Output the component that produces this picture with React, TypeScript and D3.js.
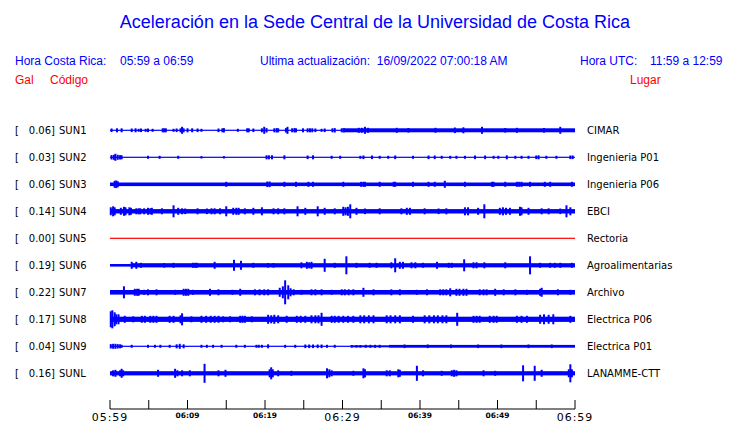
import React, { useRef, useEffect } from 'react';
import * as d3 from 'd3';

const codes = ['SUN1', 'SUN2', 'SUN3', 'SUN4', 'SUN5', 'SUN6', 'SUN7', 'SUN8', 'SUN9', 'SUNL'];
const galValues = [0.06, 0.03, 0.06, 0.14, 0.0, 0.19, 0.22, 0.17, 0.04, 0.16];
const places = [
  'CIMAR', 'Ingenieria P01', 'Ingenieria P06', 'EBCI', 'Rectoria',
  'Agroalimentarias', 'Archivo', 'Electrica P06', 'Electrica P01', 'LANAMME-CTT',
];
// minutes after 05:59, one tick every 5 minutes
const tickMinutes = [0, 5, 10, 15, 20, 25, 30, 35, 40, 45, 50, 55, 60];
const tickLabels = ['05:59', '', '06:09', '', '06:19', '', '06:29', '', '06:39', '', '06:49', '', '06:59'];
const bigTickLabels = ['05:59', '06:29', '06:59'];

type Seg = [number, number, number]; // start min, end min, half amplitude
type Ev = [number, number]; // minute, half amplitude

// base noise level of each trace
const sun1Base: Seg[] = [[0, 30, 0.6], [30, 60, 2]];
const sun2Base: Seg[] = [[0, 60, 0.6]];
const sun3Base: Seg[] = [[0, 60, 1.8]];
const sun4Base: Seg[] = [[0, 60, 2.2]];
const sun5Base: Seg[] = [[0, 60, 0.6]];
const sun6Base: Seg[] = [[0, 2.7, 1.3], [2.7, 60, 2.1]];
const sun7Base: Seg[] = [[0, 60, 2.3]];
const sun8Base: Seg[] = [[0, 60, 2.6]];
const sun9Base: Seg[] = [[0, 31, 0.6], [31, 36, 1.0], [36, 60, 1.4]];
const sunlBase: Seg[] = [[0, 60, 2.1]];

// bursts / spikes
const sun1Events: Ev[] = [
  [0.2, 1.8], [0.9, 2], [1.5, 2], [2.8, 1.8], [3.3, 2], [3.7, 1.5], [4.0, 1.8], [4.6, 1.5], [4.9, 1.8], [5.5, 1.5],
  [6.8, 2], [7.0, 2], [7.2, 2], [8.2, 1.5], [8.6, 1.8], [9.1, 2], [9.3, 3.5], [9.5, 2], [10.0, 2], [10.6, 2],
  [11.3, 1.8], [11.8, 1.5], [14.0, 1.8], [14.5, 2], [14.7, 2.2], [16.5, 1.5], [17.7, 2], [17.9, 2], [18.5, 1.8],
  [19.6, 2], [19.9, 3.5], [20.2, 2.2], [21.2, 2], [21.5, 2.2], [21.7, 2], [22.7, 2.2], [22.9, 3.5], [23.5, 2],
  [23.8, 2.2], [24.0, 2], [24.9, 2], [25.5, 2], [25.8, 2], [26.1, 2], [26.5, 1.8], [27.3, 1.5], [27.7, 1.8],
  [28.7, 2], [29.0, 2.2], [29.9, 2], [30.2, 2], [32.1, 2.5], [32.5, 2.5], [32.9, 3.5], [33.3, 2.5], [37.0, 2.5],
  [38.5, 2.3], [42.0, 2.5], [44.5, 2.8], [45.6, 3], [48.0, 3.5], [51.0, 2.3], [52.5, 2.5], [56.0, 2.3], [58.1, 3.5],
];
const sun2Events: Ev[] = [
  [0.2, 2.2], [0.5, 2.5], [0.7, 3.5], [1.0, 2.5], [1.3, 2.2], [1.5, 2], [4.9, 1.5], [6.4, 1.5], [8.8, 1.5],
  [11.8, 1.2], [14.7, 1.2], [20.2, 2], [20.5, 2], [20.9, 2], [22.5, 2], [25.5, 1.8], [26.2, 2], [28.6, 1.5],
  [29.7, 1.5], [32.3, 1.5], [32.7, 1.8], [33.8, 1.8], [34.8, 1.5], [35.9, 1.5], [36.8, 1.8], [39.1, 1.5],
  [41.1, 1.8], [41.9, 1.8], [42.8, 1.5], [43.9, 1.5], [44.7, 1.5], [45.8, 1.5], [47.1, 1.8], [48.4, 1.8],
  [49.5, 1.5], [50.1, 1.5], [51.2, 2], [52.3, 1.5], [53.1, 1.5], [54.0, 1.5], [55.0, 1.8], [55.3, 2],
  [56.3, 1.5], [57.6, 1.5], [59.4, 1.8], [59.7, 1.8],
];
const sun3Events: Ev[] = [
  [0.6, 3.5], [0.8, 3.8], [1.0, 3], [15.0, 2.5], [20.3, 2.8], [20.6, 2.8], [22.5, 2.5], [24.0, 2.5], [25.6, 2.5],
  [26.2, 2.5], [30.1, 2.5], [32.4, 2.5], [32.7, 2.5], [32.9, 2.5], [34.8, 2.5], [36.6, 2.5], [36.8, 2.5],
  [39.1, 2.5], [41.1, 2.5], [41.9, 2.5], [43.2, 3.5], [45.8, 2.5], [49.3, 2.5], [49.5, 2.5], [51.0, 2.5],
  [52.5, 2.5], [52.8, 2.5], [53.1, 2.5], [54.2, 2.5], [56.1, 2.5], [56.8, 2.5], [59.6, 2.5],
];
const sun4Events: Ev[] = [
  [0.1, 4], [0.4, 5], [0.6, 4], [1.4, 3.5], [1.8, 4.5], [2.0, 4], [2.5, 4], [2.7, 3.5], [3.4, 3], [3.7, 3],
  [3.9, 3], [4.4, 3], [4.9, 3.5], [5.2, 3], [5.4, 3.5], [6.7, 3], [8.2, 6], [8.8, 3.5], [9.3, 3], [9.7, 2.8],
  [11.3, 3], [12.5, 2.8], [13.1, 3], [13.5, 3], [14.2, 3], [15.0, 5], [15.9, 3.5], [16.3, 3.5], [16.6, 3.5],
  [17.4, 3], [18.5, 3.5], [19.6, 4], [21.1, 3], [21.7, 3], [22.5, 3], [24.2, 5], [25.2, 3.5], [26.8, 5],
  [27.7, 3.5], [29.0, 3], [30.1, 4.5], [30.4, 4], [30.7, 4.5], [31.0, 7], [31.8, 3.5], [32.9, 2.8], [34.8, 3],
  [37.6, 3], [38.3, 3.5], [38.7, 3.5], [40.6, 3], [42.4, 2.8], [43.4, 3], [45.8, 4], [46.2, 4], [47.5, 3.5],
  [48.3, 7], [50.3, 3.5], [50.7, 4], [51.1, 3.5], [51.6, 3.5], [52.9, 4.5], [53.1, 4], [54.0, 3.5], [55.7, 3],
  [56.6, 3], [58.1, 2.8], [58.9, 6], [59.4, 4],
];
const sun5Events: Ev[] = [];
const sun6Events: Ev[] = [
  [2.8, 3.5], [3.4, 3.5], [4.0, 2.5], [7.0, 2.3], [8.2, 2.5], [10.7, 2.5], [11.0, 2.5], [11.2, 2.5], [13.5, 3.5],
  [16.0, 5.5], [16.9, 4.5], [18.5, 2.5], [20.4, 2.3], [21.1, 2.3], [24.7, 3], [25.4, 3.5], [25.7, 3], [26.0, 3.5],
  [27.7, 6.5], [29.0, 2.5], [30.5, 9], [31.8, 2.5], [33.5, 2.5], [34.4, 2.5], [36.3, 3], [36.8, 7], [37.4, 3.5],
  [37.8, 3.5], [38.9, 3], [39.4, 3], [40.4, 2.5], [42.2, 3.5], [43.7, 2.5], [44.1, 2.5], [45.7, 6], [46.9, 3],
  [47.3, 3], [48.3, 3], [51.0, 3], [54.2, 9], [55.5, 2.5], [56.8, 2.5], [57.4, 2.5], [58.1, 2.5], [59.6, 2.5],
];
const sun7Events: Ev[] = [
  [1.8, 6], [3.2, 3.5], [3.5, 3.5], [3.7, 3.5], [4.4, 2.5], [4.9, 3], [6.0, 3], [8.4, 2.5], [9.5, 3.5], [9.8, 3.5],
  [10.1, 3.5], [10.7, 2.5], [12.9, 3.5], [14.0, 3], [15.8, 2.5], [16.8, 3.5], [18.7, 3], [19.3, 3], [19.9, 3],
  [20.4, 3], [21.9, 4.5], [22.3, 6], [22.6, 12], [23.0, 7], [23.3, 4], [23.7, 3], [24.7, 2.5], [26.0, 3],
  [26.5, 3], [27.3, 3], [28.6, 2.5], [29.9, 3], [30.3, 3], [30.8, 3], [31.4, 3], [32.7, 4.5], [34.0, 3],
  [36.3, 3], [37.4, 3], [39.6, 2.5], [40.9, 3], [42.6, 3], [43.0, 3], [43.4, 3], [43.9, 4], [44.7, 3.5],
  [45.1, 3.5], [45.6, 3.5], [46.0, 3.5], [47.7, 3], [48.2, 3], [48.6, 3], [49.7, 3.5], [50.8, 3], [52.3, 3],
  [53.8, 2.5], [55.5, 3.5], [55.7, 4.5], [57.8, 3], [59.4, 2.5],
];
const sun8Events: Ev[] = [
  [0.1, 8], [0.3, 9], [0.6, 7], [0.8, 5], [1.1, 5], [1.9, 3.5], [3.0, 3], [4.1, 3.5], [4.5, 3.5], [5.2, 3.5],
  [5.6, 3.5], [6.0, 3.5], [7.7, 3.5], [8.2, 3.5], [9.1, 4], [9.3, 6], [10.5, 3], [11.8, 3.5], [12.4, 3.5],
  [13.0, 3.5], [13.5, 3.5], [14.0, 3.5], [14.6, 3], [15.5, 3], [16.8, 3.5], [17.1, 3.5], [17.4, 3.5], [18.3, 3],
  [20.4, 4.5], [20.8, 4], [21.2, 4.5], [21.7, 4], [22.8, 3.5], [24.1, 3.5], [24.6, 3.5], [25.2, 3.5],
  [26.0, 4], [26.5, 4], [26.9, 4], [27.3, 6.5], [28.6, 3.5], [29.0, 3.5], [29.5, 3.5], [30.1, 3.5], [30.7, 3.5],
  [31.4, 3.5], [32.3, 4], [32.8, 4], [33.4, 4], [34.0, 4], [35.7, 4], [36.2, 4], [36.8, 4], [37.4, 4],
  [39.1, 3.5], [40.6, 4], [41.2, 4], [41.8, 4], [42.3, 4], [42.9, 4], [43.4, 4], [44.8, 6.5], [46.9, 3.5],
  [47.3, 3.5], [47.7, 3.5], [49.0, 3.5], [49.5, 3.5], [49.9, 3.5], [52.5, 3.5], [53.1, 3.5], [53.8, 3.5],
  [55.5, 4.5], [56.0, 5], [56.6, 4.5], [57.2, 5], [59.4, 3.5],
];
const sun9Events: Ev[] = [
  [0.1, 2.2], [0.4, 2.5], [0.7, 2.5], [1.0, 2.2], [1.3, 2], [1.5, 1.5], [2.8, 1.5], [4.9, 1.5], [5.8, 1.5],
  [6.5, 1.5], [7.7, 1.5], [8.6, 2], [9.0, 2.5], [9.5, 2], [11.8, 1.5], [12.5, 1.5], [13.3, 1.5], [14.4, 1.5],
  [16.3, 1.5], [17.4, 1.5], [18.9, 1.5], [19.2, 1.5], [19.6, 1.5], [20.4, 2], [22.6, 1.5], [23.9, 1.5],
  [25.2, 1.8], [25.7, 1.8], [26.2, 1.8], [26.8, 1.8], [27.3, 1.8], [28.0, 1.5], [29.0, 1.5], [31.2, 1.3],
  [31.8, 1.3], [32.3, 1.3], [33.0, 1.5], [33.6, 1.5], [34.2, 1.5], [34.8, 1.5], [38.0, 1.8], [41.0, 1.8],
  [44.0, 1.8], [47.5, 1.8], [50.5, 1.8], [54.0, 1.8], [57.0, 1.8],
];
const sunlEvents: Ev[] = [
  [0.4, 3], [0.7, 3.5], [1.3, 3], [1.5, 4.5], [1.7, 3], [6.2, 3.5], [8.4, 4.5], [8.7, 3], [9.3, 3], [10.3, 3],
  [12.2, 9.5], [14.0, 3], [14.9, 3.5], [20.6, 4], [20.8, 6], [21.0, 4], [21.7, 3], [23.4, 2.5], [28.0, 5],
  [28.3, 4], [28.6, 3], [31.4, 2.5], [32.7, 5], [32.9, 4], [35.7, 3], [36.1, 3], [37.2, 4], [37.4, 3.5],
  [39.6, 7.5], [40.4, 3], [42.8, 2.5], [44.1, 3], [44.4, 3.5], [44.7, 3], [48.2, 3], [49.7, 2.5], [53.3, 8],
  [54.8, 7.5], [55.7, 3.5], [59.2, 4], [59.4, 9], [59.6, 4],
];

const baseList = [sun1Base, sun2Base, sun3Base, sun4Base, sun5Base, sun6Base, sun7Base, sun8Base, sun9Base, sunlBase];
const eventList = [sun1Events, sun2Events, sun3Events, sun4Events, sun5Events, sun6Events, sun7Events, sun8Events, sun9Events, sunlEvents];

const width = 740;
const height = 423;
const blue = '#0000ff';
const red = '#ff0000';
const sans = 'Liberation Sans, Arial, sans-serif';
const dejavu = 'DejaVu Sans, sans-serif';

const App: React.FC = () => {
  const svgRef = useRef<SVGSVGElement | null>(null);

  useEffect(() => {
    const svg = d3.select(svgRef.current);
    svg.selectAll('*').remove();

    const x = d3.scaleLinear().domain([0, 60]).range([110, 575]);
    const row = d3.scalePoint<string>().domain(codes).range([130.3, 373.3]);
    const amp = d3.scaleLinear().domain([-10, 10]).range([10, -10]);

    // Title
    svg.append('text')
      .attr('x', 375).attr('y', 28)
      .attr('text-anchor', 'middle')
      .attr('font-family', sans).attr('font-size', 18)
      .attr('fill', blue)
      .text('Aceleración en la Sede Central de la Universidad de Costa Rica');

    // Header rows
    const header: [number, number, string, string][] = [
      [15, 65, 'Hora Costa Rica:', blue],
      [120, 65, '05:59 a 06:59', blue],
      [260, 65, 'Ultima actualización:  16/09/2022 07:00:18 AM', blue],
      [580, 65, 'Hora UTC:', blue],
      [650, 65, '11:59 a 12:59', blue],
      [15, 84, 'Gal', red],
      [50, 84, 'Código', red],
      [630, 84, 'Lugar', red],
    ];
    svg.append('g').selectAll('text')
      .data(header)
      .enter()
      .append('text')
      .attr('x', d => d[0]).attr('y', d => d[1])
      .attr('font-family', sans).attr('font-size', 12)
      .attr('fill', d => d[3])
      .attr('xml:space', 'preserve')
      .style('white-space', 'pre')
      .text(d => d[2]);

    // Traces
    codes.forEach((code, i) => {
      const cy = row(code) as number;
      const color = galValues[i] === 0 ? red : blue;
      const g = svg.append('g').attr('transform', `translate(0,${cy})`);

      g.selectAll('rect.base')
        .data(baseList[i])
        .enter()
        .append('rect')
        .attr('class', 'base')
        .attr('x', d => x(d[0]))
        .attr('width', d => x(d[1]) - x(d[0]))
        .attr('y', d => amp(d[2]))
        .attr('height', d => amp(-d[2]) - amp(d[2]))
        .attr('fill', color);

      g.selectAll('rect.ev')
        .data(eventList[i])
        .enter()
        .append('rect')
        .attr('class', 'ev')
        .attr('x', d => x(d[0]) - 1)
        .attr('width', 2)
        .attr('y', d => amp(d[1]))
        .attr('height', d => amp(-d[1]) - amp(d[1]))
        .attr('fill', color);

      const lbl = svg.append('g')
        .attr('font-family', dejavu).attr('font-size', 10).attr('fill', '#000');
      lbl.append('text').attr('x', 15).attr('y', cy + 3.7).text('[');
      lbl.append('text').attr('x', 55).attr('y', cy + 3.7)
        .attr('text-anchor', 'end').text(`${galValues[i].toFixed(2)}]`);
      lbl.append('text').attr('x', 59).attr('y', cy + 3.7).text(code);
      lbl.append('text').attr('x', 587).attr('y', cy + 3.7).text(places[i]);
    });

    // Time axis
    const axisY = 409;
    const ax = svg.append('g');
    ax.append('line')
      .attr('x1', x(0)).attr('x2', x(60))
      .attr('y1', axisY).attr('y2', axisY)
      .attr('stroke', '#000').attr('stroke-width', 1);
    ax.selectAll('line.tick')
      .data(tickMinutes)
      .enter()
      .append('line')
      .attr('class', 'tick')
      .attr('x1', d => x(d)).attr('x2', d => x(d))
      .attr('y1', axisY - 9).attr('y2', axisY)
      .attr('stroke', '#000').attr('stroke-width', 1);
    ax.selectAll('text')
      .data(tickMinutes.map((m, i) => ({ m, label: tickLabels[i] })).filter(d => d.label))
      .enter()
      .append('text')
      .attr('x', d => x(d.m))
      .attr('y', d => (bigTickLabels.includes(d.label) ? 421 : 418))
      .attr('text-anchor', 'middle')
      .attr('font-family', dejavu)
      .attr('font-size', d => (bigTickLabels.includes(d.label) ? 11 : 7.5))
      .attr('font-weight', d => (bigTickLabels.includes(d.label) ? 'normal' : 'bold'))
      .attr('letter-spacing', d => (bigTickLabels.includes(d.label) ? 1 : 0))
      .attr('fill', '#000')
      .text(d => d.label);
  }, []);

  return (
    <svg
      ref={svgRef}
      width={width}
      height={height}
      style={{ position: 'absolute', left: 0, top: 0, background: '#fff' }}
    />
  );
};

export default App;
